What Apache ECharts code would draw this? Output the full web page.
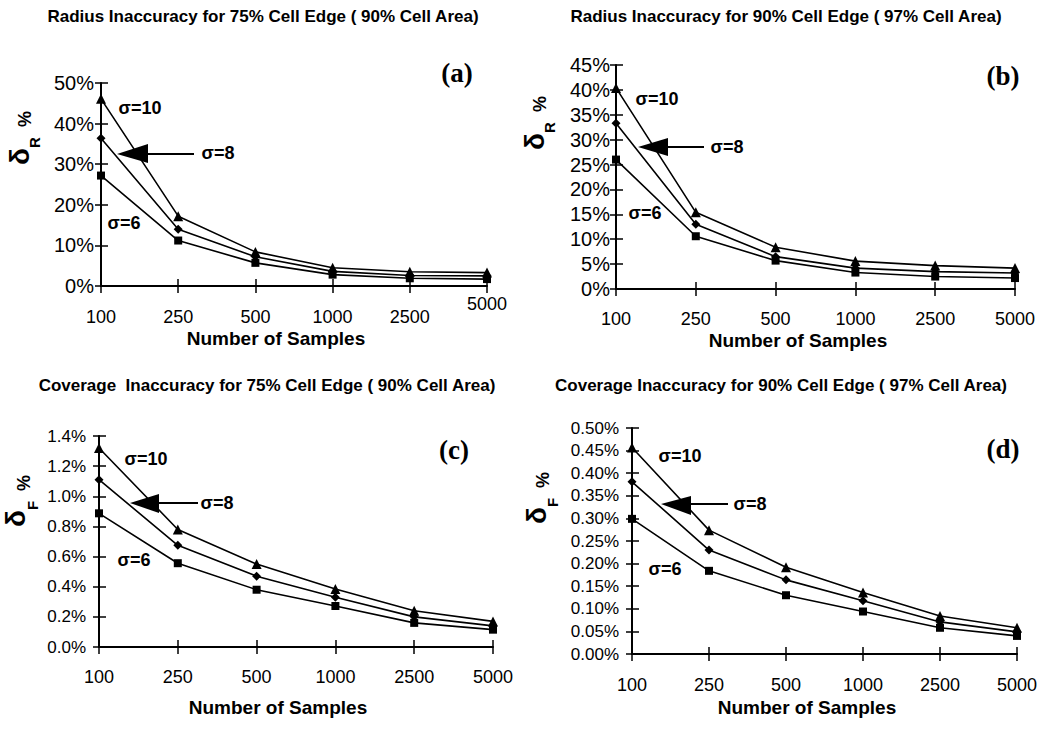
<!DOCTYPE html>
<html>
<head>
<meta charset="utf-8">
<script src="https://cdn.jsdelivr.net/npm/echarts@6/dist/echarts.min.js"></script>
<style>
html,body{margin:0;padding:0;background:#fff;}
#chart{width:1053px;height:729px;}
</style>
</head>
<body>
<div id="chart"></div>
<script>
// ---- data ----
const samples = ['100', '250', '500', '1000', '2500', '5000'];
const sigmaNames = ['σ=10', 'σ=8', 'σ=6'];
const titles = [
  'Radius Inaccuracy for 75% Cell Edge ( 90% Cell Area)',
  'Radius Inaccuracy for 90% Cell Edge ( 97% Cell Area)',
  'Coverage  Inaccuracy for 75% Cell Edge ( 90% Cell Area)',
  'Coverage Inaccuracy for 90% Cell Edge ( 97% Cell Area)'
];
const panelTags = ['(a)', '(b)', '(c)', '(d)'];
const xName = 'Number of Samples';
const yNameSub = ['R', 'R', 'F', 'F'];
// panel (a) radius, 75% edge
const a10 = [46.1, 17.2, 8.4, 4.5, 3.5, 3.3];
const a8  = [36.4, 14.0, 7.2, 3.6, 2.6, 2.5];
const a6  = [27.2, 11.2, 5.7, 2.8, 1.9, 1.7];
// panel (b) radius, 90% edge
const b10 = [40.4, 15.4, 8.4, 5.6, 4.7, 4.2];
const b8  = [33.3, 13.0, 6.5, 4.2, 3.5, 3.2];
const b6  = [26.0, 10.6, 5.7, 3.3, 2.5, 2.2];
// panel (c) coverage, 75% edge
const c10 = [1.32, 0.78, 0.55, 0.385, 0.24, 0.17];
const c8  = [1.11, 0.675, 0.47, 0.33, 0.20, 0.14];
const c6  = [0.887, 0.556, 0.38, 0.272, 0.16, 0.115];
// panel (d) coverage, 90% edge
const d10 = [0.457, 0.274, 0.192, 0.136, 0.084, 0.058];
const d8  = [0.381, 0.230, 0.164, 0.118, 0.071, 0.049];
const d6  = [0.299, 0.184, 0.130, 0.094, 0.058, 0.040];
// y axis ranges
const yMax = [50, 45, 1.4, 0.5];
const yStep = [10, 5, 0.2, 0.05];
const yDecimals = [0, 0, 1, 2];

// ---- layout ----
const FONT = "'Liberation Sans', Arial, sans-serif";
const grids = [
  {left: 101, top: 83, width: 386, height: 203},
  {left: 616, top: 65, width: 399, height: 224},
  {left: 99, top: 436, width: 394, height: 211},
  {left: 632, top: 428, width: 385, height: 226}
];
const xLabelMargin = [22, 21, 21, 22];
const yLabelSize = [20, 20, 17, 17];
const yLabelMargin = [7, 6, 13, 13];
const yNameGap = [59, 59, 59, 72];
const yNameLead = [93, 108, 81, 86];   // shift of the y name along its axis
const yNameSubDrop = [30, 30, 34, 32];
const yNamePctDrop = [10, 10, 16, 12];
const seriesSets = [[a10, a8, a6], [b10, b8, b6], [c10, c8, c6], [d10, d8, d6]];
const symbols = ['triangle', 'diamond', 'rect'];
const symbolSizes = [10, 9, 8];

const xAxes = [], yAxes = [], series = [];
const baseX = (i) => ({
  type: 'category', gridIndex: i, data: samples, boundaryGap: false, position: 'bottom',
  splitLine: {show: false}
});
grids.forEach((g, i) => {
  const dec = yDecimals[i];
  const raiseLast = (i === 0);
  xAxes.push(Object.assign(baseX(i), {
    axisLine: {lineStyle: {color: '#000', width: 2}},
    axisTick: {show: true, inside: false, length: 7, lineStyle: {color: '#000', width: 1.5}},
    axisLabel: {
      color: '#000', fontFamily: FONT, fontSize: 18, margin: xLabelMargin[i], interval: 0,
      formatter: (v, idx) => (raiseLast && idx === samples.length - 1) ? '' : v
    }
  }));
  xAxes.push(Object.assign(baseX(i), {
    axisLine: {show: false},
    axisTick: {show: true, inside: true, length: 7, lineStyle: {color: '#000', width: 1.5}},
    axisLabel: raiseLast ? {
      show: true, color: '#000', fontFamily: FONT, fontSize: 18, margin: 9, interval: 0,
      formatter: (v, idx) => idx === samples.length - 1 ? v : ''
    } : {show: false}
  }));
  const yBase = {
    type: 'value', gridIndex: i, min: 0, max: yMax[i], interval: yStep[i], position: 'left',
    splitLine: {show: false}
  };
  yAxes.push(Object.assign({}, yBase, {
    name: '{d|δ}{s|' + yNameSub[i] + '}{p|%}',
    nameLocation: 'middle', nameRotate: 90, nameGap: yNameGap[i],
    nameTextStyle: {
      rich: {
        d: {fontFamily: FONT, fontWeight: 'bold', fontSize: 28, color: '#000', padding: [0, 0, 0, yNameLead[i]]},
        s: {fontFamily: FONT, fontWeight: 'bold', fontSize: 15, color: '#000', padding: [yNameSubDrop[i], 0, 0, 0]},
        p: {fontFamily: FONT, fontWeight: 'bold', fontSize: 18, color: '#000', padding: [yNamePctDrop[i], 0, 0, 10]}
      }
    },
    axisLine: {show: true, lineStyle: {color: '#000', width: 2}},
    axisTick: {show: true, inside: false, length: 6, lineStyle: {color: '#000', width: 1.5}},
    axisLabel: {
      color: '#000', fontFamily: FONT, fontSize: yLabelSize[i], margin: yLabelMargin[i],
      formatter: v => v.toFixed(dec) + '%'
    }
  }));
  yAxes.push(Object.assign({}, yBase, {
    axisLine: {show: false},
    axisTick: {show: true, inside: true, length: 7, lineStyle: {color: '#000', width: 1.5}},
    axisLabel: {show: false}
  }));
  seriesSets[i].forEach((arr, k) => {
    series.push({
      type: 'line', name: sigmaNames[k], xAxisIndex: 2 * i, yAxisIndex: 2 * i,
      data: arr, symbol: symbols[k], symbolSize: symbolSizes[k],
      itemStyle: {color: '#000'}, lineStyle: {color: '#000', width: 1.6},
      animation: false, z: 5
    });
  });
});

// ---- annotations ----
const titlePos = [[263, 16], [786, 16], [267, 385], [781, 385]];
const tagPos = [[457, 73], [1003, 76], [454, 450], [1003, 449]];
const xNamePos = [[276, 338], [798, 340], [278, 707], [807, 707]];
const sigmaPos = [
  [[140, 108], [218, 153], [124, 223]],
  [[657, 99], [727, 147], [645, 213]],
  [[146, 459], [217, 503], [134, 560]],
  [[680, 456], [750, 504], [665, 569]]
];
const arrows = [
  {tip: [117, 154], bx: 148, by1: 144, by2: 163, end: 194},
  {tip: [638, 147], bx: 668, by1: 138, by2: 156, end: 704},
  {tip: [130, 503], bx: 159, by1: 494, by2: 513, end: 198},
  {tip: [661, 504], bx: 691, by1: 496, by2: 515, end: 728}
];

const graphics = [];
function txt(text, x, y, font, lh) {
  graphics.push({
    type: 'text', x: x, y: y, silent: true,
    style: {text: text, font: font, fill: '#000', align: 'center', verticalAlign: 'middle', lineHeight: lh}
  });
}
for (let i = 0; i < 4; i++) {
  txt(titles[i], titlePos[i][0], titlePos[i][1], 'bold 17px ' + FONT, 18);
  txt(panelTags[i], tagPos[i][0], tagPos[i][1], "bold 27px 'Liberation Serif', 'Times New Roman', serif", 28);
  txt(xName, xNamePos[i][0], xNamePos[i][1], 'bold 19px ' + FONT, 19);
  for (let k = 0; k < 3; k++) txt(sigmaNames[k], sigmaPos[i][k][0], sigmaPos[i][k][1], 'bold 18px ' + FONT, 18);
  const a = arrows[i];
  graphics.push({type: 'polygon', silent: true, shape: {points: [a.tip, [a.bx, a.by1], [a.bx, a.by2]]}, style: {fill: '#000'}});
  graphics.push({type: 'line', silent: true, shape: {x1: a.bx, y1: a.tip[1], x2: a.end, y2: a.tip[1]}, style: {stroke: '#000', lineWidth: 2}});
}

const chart = echarts.init(document.getElementById('chart'), null, {renderer: 'svg'});
chart.setOption({
  backgroundColor: '#fff',
  animation: false,
  grid: grids.map(g => Object.assign({containLabel: false}, g)),
  xAxis: xAxes,
  yAxis: yAxes,
  series: series,
  graphic: graphics
});
</script>
</body>
</html>
